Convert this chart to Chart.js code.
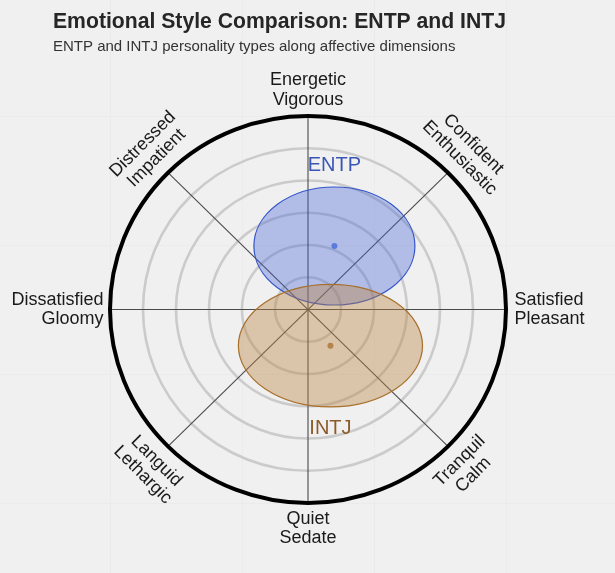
<!DOCTYPE html>
<html><head><meta charset="utf-8">
<script src="https://cdn.jsdelivr.net/npm/chart.js@4"></script>
<style>html,body{margin:0;padding:0;background:#f0f0f0;}#wrap{width:615px;height:573px;}</style>
</head><body><div id="wrap"><canvas id="c" width="615" height="573"></canvas></div>
<script>
// ---- data ----
const categories = ["ENTP", "INTJ"];
const centerX = [0.80, 0.68];
const centerY = [1.97, -1.12];
const radiusX = [2.44, 2.79];
const radiusY = [1.83, 1.90];
const ringLevels = [1, 2, 3, 4, 5];
const outerLevel = 6;
const backgroundGrid = [-6, -2, 2, 6];
const axisAngles = [0, 45, 90, 135, 180, 225, 270, 315];
const axisLabels = [["Satisfied", "Pleasant"], ["Confident", "Enthusiastic"], ["Energetic", "Vigorous"], ["Distressed", "Impatient"], ["Dissatisfied", "Gloomy"], ["Languid", "Lethargic"], ["Quiet", "Sedate"], ["Tranquil", "Calm"]];
const titleText = "Emotional Style Comparison: ENTP and INTJ";
const subtitleText = "ENTP and INTJ personality types along affective dimensions";

// ---- styles ----
const fillColors = ["rgba(70,100,215,0.36)", "rgba(185,130,65,0.40)"];
const strokeColors = ["#3354c8", "#a8702c"];
const dotColors = ["#5b7bdc", "#b5834c"];
const labelColors = ["#3a56b4", "#8c5a28"];
const FONT = "'Liberation Sans', Arial, sans-serif";

const polarPlugin = {
  id: 'polarDecor',
  beforeDraw(chart) {
    const ctx = chart.ctx;
    const xs = chart.scales.x, ys = chart.scales.y;
    ctx.save();
    ctx.fillStyle = '#f0f0f0';
    ctx.fillRect(0, 0, chart.width, chart.height);
    ctx.strokeStyle = '#ebebeb';
    ctx.lineWidth = 1;
    backgroundGrid.forEach(v => {
      const gx = Math.round(xs.getPixelForValue(v)) + 0.5;
      const gy = Math.round(ys.getPixelForValue(v)) + 0.5;
      ctx.beginPath(); ctx.moveTo(gx, 0); ctx.lineTo(gx, chart.height); ctx.stroke();
      ctx.beginPath(); ctx.moveTo(0, gy); ctx.lineTo(chart.width, gy); ctx.stroke();
    });
    ctx.restore();
  },
  beforeDatasetsDraw(chart) {
    const ctx = chart.ctx;
    const xs = chart.scales.x, ys = chart.scales.y;
    const cx = xs.getPixelForValue(0), cy = ys.getPixelForValue(0);
    const ux = xs.getPixelForValue(1) - cx, uy = cy - ys.getPixelForValue(1);
    ctx.save();
    // rings
    ctx.strokeStyle = '#cbcbcb';
    ctx.lineWidth = 2.6;
    ringLevels.forEach(r => {
      ctx.beginPath();
      ctx.ellipse(cx, cy, r * ux, r * uy, 0, 0, Math.PI * 2);
      ctx.stroke();
    });
    // spokes
    ctx.strokeStyle = '#4a4a4a';
    ctx.lineWidth = 1.1;
    axisAngles.forEach(a => {
      const t = a * Math.PI / 180;
      ctx.beginPath();
      ctx.moveTo(cx, cy);
      ctx.lineTo(cx + Math.cos(t) * outerLevel * ux, cy - Math.sin(t) * outerLevel * uy);
      ctx.stroke();
    });
    // ellipses
    categories.forEach((c, i) => {
      const ex = xs.getPixelForValue(centerX[i]), ey = ys.getPixelForValue(centerY[i]);
      ctx.beginPath();
      ctx.ellipse(ex, ey, radiusX[i] * ux, radiusY[i] * uy, 0, 0, Math.PI * 2);
      ctx.fillStyle = fillColors[i];
      ctx.fill();
      ctx.strokeStyle = strokeColors[i];
      ctx.lineWidth = 1.2;
      ctx.stroke();
    });
    // outer circle
    ctx.strokeStyle = '#000';
    ctx.lineWidth = 4;
    ctx.beginPath();
    ctx.ellipse(cx, cy, outerLevel * ux, outerLevel * uy, 0, 0, Math.PI * 2);
    ctx.stroke();
    // axis labels
    ctx.fillStyle = '#1a1a1a';
    ctx.font = '18px ' + FONT;
    ctx.textBaseline = 'middle';
    const lh = 19.5;
    axisAngles.forEach((a, i) => {
      const lines = axisLabels[i];
      const t = a * Math.PI / 180;
      if (a === 0 || a === 180) {
        const x = a === 0 ? cx + 206.5 : cx - 204.5;
        ctx.textAlign = a === 0 ? 'left' : 'right';
        lines.forEach((s, k) => ctx.fillText(s, x, cy + (k - (lines.length - 1) / 2) * lh));
      } else if (a === 90 || a === 270) {
        const y = a === 90 ? cy - 219.5 : cy + 219;
        ctx.textAlign = 'center';
        lines.forEach((s, k) => ctx.fillText(s, cx, y + (k - (lines.length - 1) / 2) * lh));
      } else {
        const R = 224;
        const px = cx + Math.cos(t) * R, py = cy - Math.sin(t) * R;
        const rot = (a === 45 || a === 225) ? Math.PI / 4 : -Math.PI / 4;
        ctx.save();
        ctx.translate(px, py);
        ctx.rotate(rot);
        ctx.textAlign = 'center';
        lines.forEach((s, k) => ctx.fillText(s, 0, (k - (lines.length - 1) / 2) * lh));
        ctx.restore();
      }
    });
    ctx.restore();
  },
  afterDatasetsDraw(chart) {
    const ctx = chart.ctx;
    const xs = chart.scales.x, ys = chart.scales.y;
    ctx.save();
    ctx.font = '20px ' + FONT;
    ctx.textAlign = 'center';
    ctx.textBaseline = 'middle';
    categories.forEach((c, i) => {
      const up = centerY[i] >= 0;
      const edge = up ? centerY[i] + radiusY[i] : centerY[i] - radiusY[i];
      const px = xs.getPixelForValue(centerX[i]);
      const py = ys.getPixelForValue(edge) + (up ? -21 : 22);
      ctx.fillStyle = labelColors[i];
      ctx.fillText(c, px, py);
    });
    ctx.restore();
  }
};

new Chart(document.getElementById('c'), {
  type: 'scatter',
  data: {
    datasets: categories.map((c, i) => ({
      label: c,
      data: [{ x: centerX[i], y: centerY[i] }],
      pointRadius: 3,
      pointHoverRadius: 3,
      backgroundColor: dotColors[i],
      borderWidth: 0
    }))
  },
  options: {
    responsive: false,
    animation: false,
    devicePixelRatio: 1,
    layout: { padding: { left: 53, right: 109, top: 0, bottom: 70 } },
    scales: {
      x: { type: 'linear', min: -outerLevel, max: outerLevel, display: false },
      y: {
        type: 'linear', min: -outerLevel, max: outerLevel, display: true, position: 'left',
        ticks: { display: false }, grid: { display: false }, border: { display: false },
        afterFit: s => { s.width = 57; }
      }
    },
    plugins: {
      legend: { display: false },
      tooltip: { enabled: false },
      title: {
        display: true, text: titleText, align: 'start', color: '#262626',
        font: { family: FONT, size: 21.7, weight: 'bold' },
        padding: { top: 9, bottom: 2.6 }
      },
      subtitle: {
        display: true, text: subtitleText, align: 'start', color: '#333333',
        font: { family: FONT, size: 15 },
        padding: { top: 0, bottom: 60.4 }
      }
    }
  },
  plugins: [polarPlugin]
});
</script></body></html>
